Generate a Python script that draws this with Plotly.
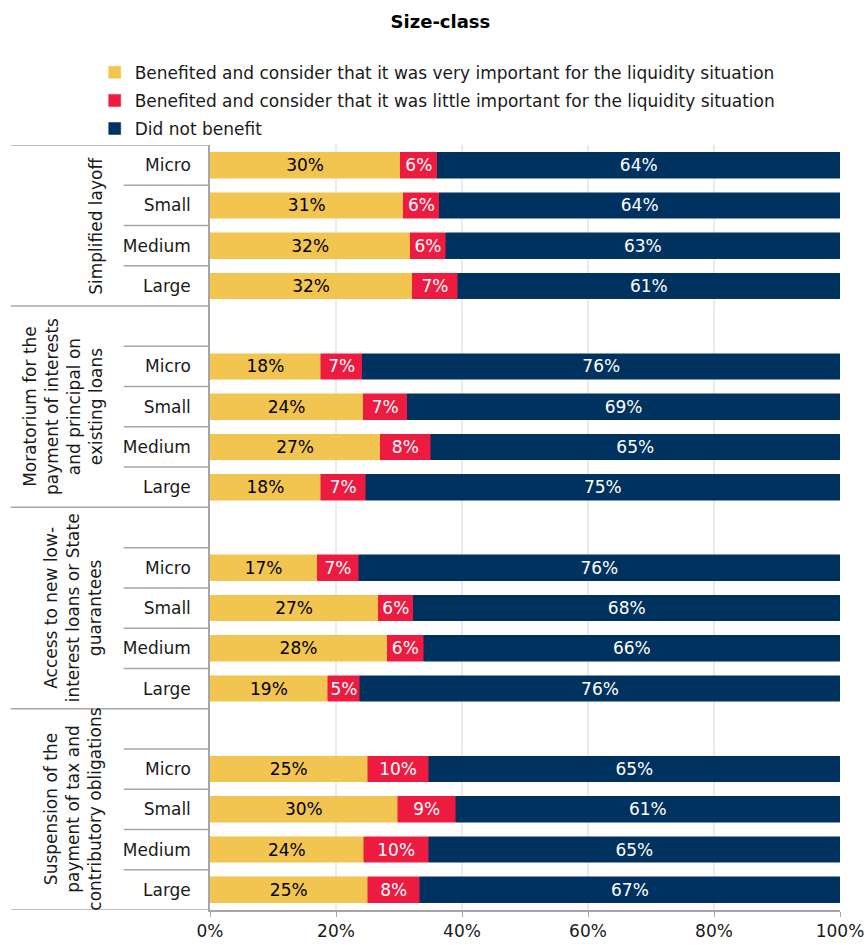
import plotly.graph_objects as go

# Measures and size classes
groups = [
    "Simplified layoff",
    "Moratorium for the<br>payment of interests<br>and principal on<br>existing loans",
    "Access to new low-<br>interest loans or State<br>guarantees",
    "Suspension of the<br>payment of tax and<br>contributory obligations",
]
sizes = ["Micro", "Small", "Medium", "Large"]
x_ticks = [0, 20, 40, 60, 80, 100]
x_tick_labels = ["0%", "20%", "40%", "60%", "80%", "100%"]

# Shares (%), group by group, Micro -> Large
very_important = [30.2, 30.7, 31.8, 32.1,
                  17.6, 24.3, 27.0, 17.6,
                  17.0, 26.7, 28.1, 18.7,
                  25.0, 29.8, 24.4, 25.0]
little_important = [5.9, 5.7, 5.6, 7.2,
                    6.6, 7.0, 8.0, 7.1,
                    6.6, 5.6, 5.8, 5.1,
                    9.7, 9.2, 10.3, 8.3]
did_not_benefit = [63.9, 63.6, 62.6, 60.7,
                   75.8, 68.7, 65.0, 75.3,
                   76.4, 67.7, 66.1, 76.2,
                   65.3, 61.0, 65.3, 66.7]

series = [
    ("Benefited and consider that it was very important for the liquidity situation", very_important, "#F2C450", "black"),
    ("Benefited and consider that it was little important for the liquidity situation", little_important, "#ED1B3F", "white"),
    ("Did not benefit", did_not_benefit, "#00325F", "white"),
]

# row positions: groups after the first get an empty row on top
ypos, ylab, group_bounds, row_bounds, group_mid = [], [], [-0.5], [], []
row = 0
for g in range(len(groups)):
    start = row - 0.5
    if g > 0:
        row += 1
        row_bounds.append(row - 0.5)
    for k, s in enumerate(sizes):
        ypos.append(row)
        ylab.append(s)
        if k < len(sizes) - 1:
            row_bounds.append(row + 0.5)
        row += 1
    group_bounds.append(row - 0.5)
    group_mid.append((start + row - 0.5) / 2)

fig = go.Figure()
for i, (name, vals, col, tcol) in enumerate(series):
    fig.add_trace(go.Bar(
        y=ypos, x=vals, name=name, orientation="h",
        marker=dict(color=col, line=dict(color=col, width=0.5)),
        texttemplate="%{x:.0f}%", textposition="inside",
        insidetextanchor="middle", constraintext="none",
        textfont=dict(color=tcol, size=17, family="DejaVu Sans"),
        legendgroup=str(i), hoverinfo="skip",
    ))

grey = "#A6A6A6"
shapes = []
for b in group_bounds:
    shapes.append(dict(type="line", xref="paper", yref="y", x0=-0.316, x1=0,
                       y0=b, y1=b, line=dict(color=grey, width=1.5)))
for b in row_bounds:
    shapes.append(dict(type="line", xref="paper", yref="y", x0=-0.137, x1=0,
                       y0=b, y1=b, line=dict(color=grey, width=1.5)))

annotations = []
for g, m in zip(groups, group_mid):
    annotations.append(dict(text=g, x=-0.163, xref="paper", xanchor="right",
                            y=m, yref="y", yanchor="middle", textangle=-90,
                            showarrow=False, align="center",
                            font=dict(size=17, color="#1a1a1a", family="DejaVu Sans")))

fig.update_layout(
    width=867, height=945,
    margin=dict(l=210, r=27, t=145, b=35),
    plot_bgcolor="white", paper_bgcolor="white",
    barmode="stack", bargap=0.36,
    font=dict(family="DejaVu Sans", size=17, color="#1a1a1a"),
    title=dict(text="<b>Size-class</b>", x=0.508, xanchor="center",
               y=0.977, yanchor="middle", font=dict(size=18, color="black")),
    legend=dict(x=-0.183, xanchor="left", y=1.118, yanchor="top",
                traceorder="grouped", tracegroupgap=3, bgcolor="rgba(0,0,0,0)",
                font=dict(size=17, color="#1a1a1a"), itemwidth=30),
    shapes=shapes, annotations=annotations,
    xaxis=dict(range=[0, 100], tickvals=x_ticks, ticktext=x_tick_labels,
               showgrid=True, gridcolor="#EBEBEB", gridwidth=1.5,
               showline=True, linecolor=grey, linewidth=1.5,
               ticks="outside", ticklen=5, tickcolor=grey, zeroline=False,
               tickfont=dict(size=17), automargin=False),
    yaxis=dict(range=[row - 0.5, -0.5], tickvals=ypos, ticktext=ylab,
               showgrid=False, zeroline=False, showline=True, linecolor=grey,
               linewidth=1.5, ticks="", ticklabelstandoff=14,
               tickfont=dict(size=17), automargin=False),
)

fig.write_html("out.html", config={"displayModeBar": False},
               post_script="document.body.style.margin='0';")
